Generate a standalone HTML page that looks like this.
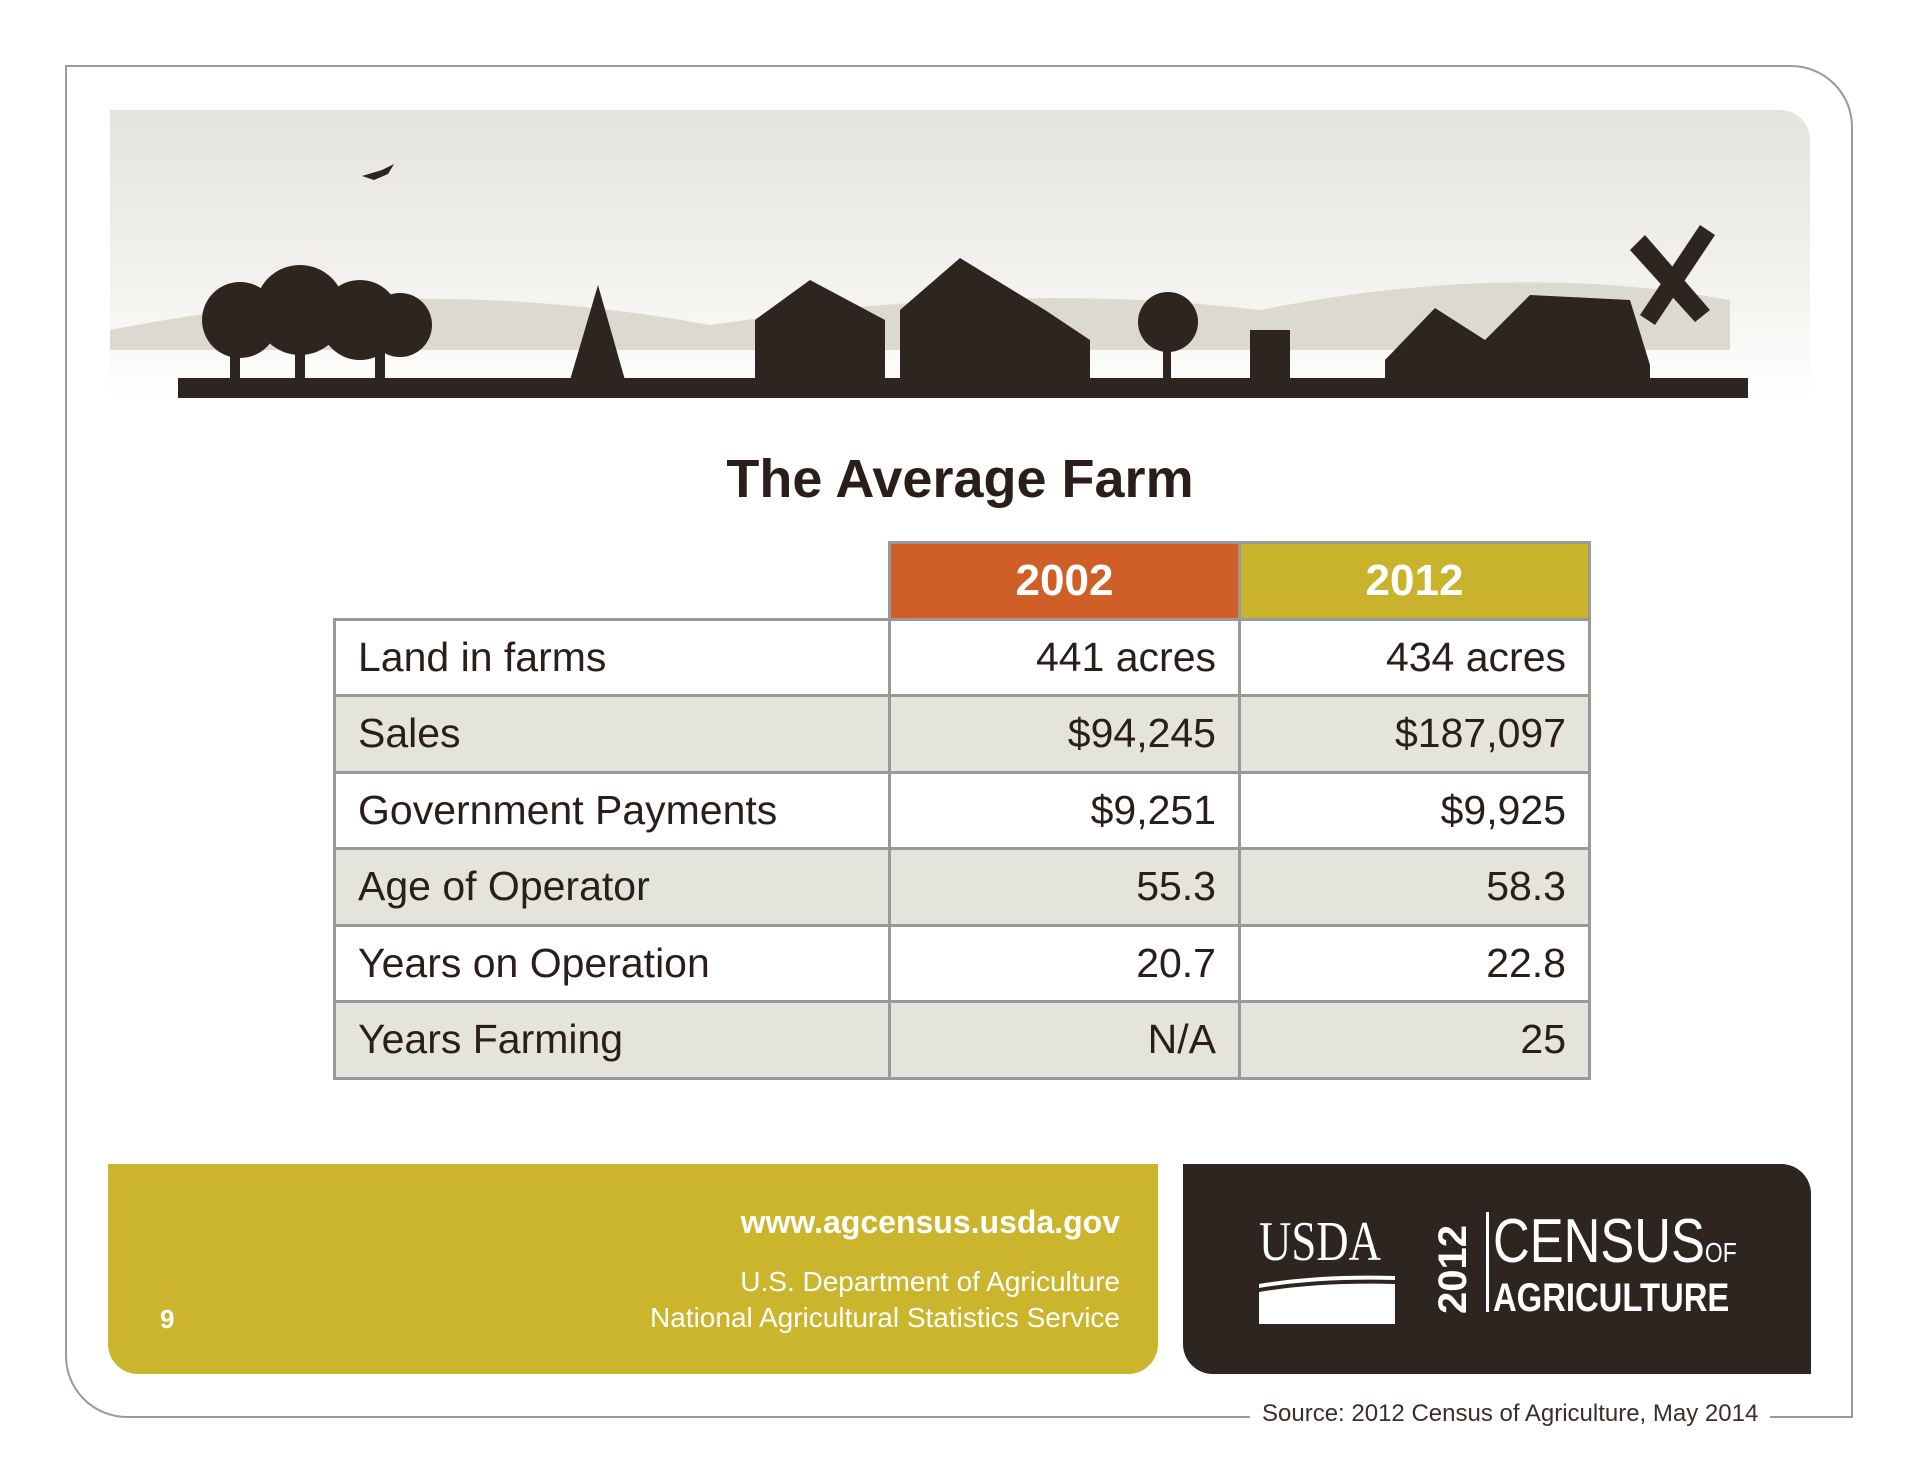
<!DOCTYPE html>
<html><head><meta charset="utf-8">
<style>
body{margin:0;width:1920px;height:1484px;background:#fff;position:relative;overflow:hidden;font-family:"Liberation Sans",sans-serif;color:#2a1e1a}
.abs{position:absolute}
#frame{left:65px;top:65px;width:1788px;height:1353px;border:2px solid #9a9a9a;border-radius:0 62px 0 62px;box-sizing:border-box}
#banner{left:110px;top:110px;width:1700px;height:290px;border-radius:0 30px 0 0;background:linear-gradient(#e4e3dc,#f3f2ee 60%,#fff)}
#title{left:0;width:1920px;top:448px;text-align:center;font-size:54px;font-weight:bold}
table{position:absolute;left:333px;top:541px;border-collapse:collapse}
td{border:3px solid #999;height:76.5px;font-size:41px;padding:0 22px;box-sizing:border-box}
td.v{text-align:right}
tr.g td{background:#e4e3dc}
tr.h td{color:#fff;font-weight:bold;text-align:center;font-size:44px}
#foot{left:108px;top:1164px;width:1050px;height:210px;background:#cbb52c;border-radius:0 0 30px 30px}
#dark{left:1183px;top:1164px;width:628px;height:210px;background:#2e2420;border-radius:0 30px 0 30px}
</style></head><body>
<div class="abs" id="frame"></div>
<div class="abs" id="banner">
<svg width="1700" height="290">
<path d="M0 220 Q300 160 600 215 Q900 170 1150 200 Q1400 150 1620 190 L1620 240 L0 240Z" fill="#dcdad0"/>
<g fill="#2e2420">
<rect x="68" y="268" width="1570" height="20"/>
<circle cx="130" cy="210" r="38"/><circle cx="190" cy="200" r="45"/><circle cx="250" cy="210" r="40"/><circle cx="290" cy="215" r="32"/>
<rect x="120" y="220" width="10" height="50"/><rect x="185" y="220" width="10" height="50"/><rect x="265" y="220" width="10" height="50"/>
<polygon points="488,175 460,270 515,270"/>
<polygon points="645,210 700,170 775,210 775,270 645,270"/>
<polygon points="790,200 850,148 935,200 980,230 980,270 790,270"/>
<circle cx="1058" cy="212" r="30"/><rect x="1053" y="220" width="8" height="50"/>
<rect x="1140" y="220" width="40" height="50"/>
<polygon points="1275,250 1325,198 1375,230 1420,185 1520,190 1540,255 1540,270 1275,270"/>
<polygon points="1520,140 1535,125 1600,200 1585,212"/><polygon points="1530,205 1590,115 1605,125 1545,215"/>
<path d="M252 66 l20 -6 l12 -6 l-6 10 l-14 6 z"/>
</g></svg></div>
<div class="abs" id="title">The Average Farm</div>
<table>
<tr class="h"><td style="border:none;background:#fff;width:555px"></td><td style="background:#cf5f27;width:350px">2002</td><td style="background:#c9b32c;width:350px">2012</td></tr>
<tr><td>Land in farms</td><td class="v">441 acres</td><td class="v">434 acres</td></tr>
<tr class="g"><td>Sales</td><td class="v">$94,245</td><td class="v">$187,097</td></tr>
<tr><td>Government Payments</td><td class="v">$9,251</td><td class="v">$9,925</td></tr>
<tr class="g"><td>Age of Operator</td><td class="v">55.3</td><td class="v">58.3</td></tr>
<tr><td>Years on Operation</td><td class="v">20.7</td><td class="v">22.8</td></tr>
<tr class="g"><td>Years Farming</td><td class="v">N/A</td><td class="v">25</td></tr>
</table>
<div class="abs" id="foot">
<div class="abs" style="right:38px;top:40px;color:#fff;font-weight:bold;font-size:32px">www.agcensus.usda.gov</div>
<div class="abs" style="right:38px;top:100px;color:#fff;font-size:28px;text-align:right;line-height:36px">U.S. Department of Agriculture<br>National Agricultural Statistics Service</div>
<div class="abs" style="left:52px;top:140px;color:#fff;font-weight:bold;font-size:26px">9</div>
</div>
<div class="abs" id="dark">
<div class="abs" style="left:76px;top:46px;color:#fff;font-family:'Liberation Serif',serif;font-size:56px;transform:scaleX(.8);transform-origin:left">USDA</div>
<svg class="abs" style="left:76px;top:110px" width="136" height="50"><path d="M0 10 Q60 0 136 2 L136 50 L0 50 Z M0 18 Q60 8 136 10 L136 6 Q60 4 0 14Z" fill="#fff"/></svg>
<div class="abs" style="left:248px;top:150px;color:#fff;font-weight:bold;font-size:40px;transform:rotate(-90deg);transform-origin:left top">2012</div>
<div class="abs" style="left:303px;top:48px;width:3px;height:100px;background:#fff"></div>
<div class="abs" style="left:310px;top:42px;color:#fff;font-size:62px;transform:scaleX(.82);transform-origin:left">CENSUS<span style="font-size:28px">OF</span></div>
<div class="abs" style="left:310px;top:112px;color:#fff;font-weight:bold;font-size:40px;transform:scaleX(.82);transform-origin:left">AGRICULTURE</div>
</div>
<div class="abs" style="left:1250px;top:1400px;background:#fff;padding:0 12px;font-size:24px;color:#3a2e2a">Source: 2012 Census of Agriculture, May 2014</div>
</body></html>
